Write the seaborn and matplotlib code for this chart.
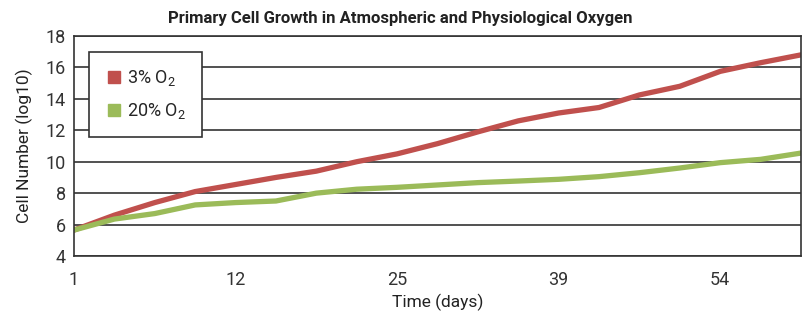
import pandas as pd
import seaborn as sns
import matplotlib.pyplot as plt
from matplotlib.font_manager import fontManager

# sample points; only every 4th point has a day label
day_labels = ['1', '', '', '', '12', '', '', '', '25', '', '', '',
              '39', '', '', '', '54', '', '']
o2_3 = [5.65, 6.6, 7.4, 8.1, 8.55, 9.0, 9.4, 10.0, 10.5, 11.15,
        11.9, 12.6, 13.1, 13.45, 14.25, 14.8, 15.75, 16.3, 16.8]
o2_20 = [5.65, 6.35, 6.7, 7.25, 7.4, 7.5, 8.0, 8.25, 8.37, 8.52,
         8.67, 8.77, 8.88, 9.05, 9.3, 9.6, 9.94, 10.15, 10.55]
series = ['3% O$_2$', '20% O$_2$']
colors = ['#c0504d', '#9bbb59']

df = pd.DataFrame({
    'idx': list(range(len(o2_3))) * 2,
    'value': o2_3 + o2_20,
    'series': [series[0]] * len(o2_3) + [series[1]] * len(o2_20),
})

sns.set_style('white')
names = {f.name for f in fontManager.ttflist}
fams = [f for f in ['Liberation Sans Narrow', 'Roboto', 'DejaVu Sans'] if f in names]
plt.rcParams['font.family'] = fams
plt.rcParams['mathtext.default'] = 'regular'

fig = plt.figure(figsize=(8.1, 3.14), dpi=100)
ax = fig.add_axes([74 / 810, 1 - 256 / 314, 727 / 810, 220 / 314])

sns.lineplot(data=df, x='idx', y='value', hue='series', palette=colors,
             linewidth=3.8, ax=ax, legend=False)

ax.set_xlim(0, len(o2_3) - 1)
ax.set_ylim(4, 18)
ax.set_yticks(range(4, 19, 2))
ax.set_xticks(range(len(day_labels)))
ax.set_xticklabels(day_labels)
ax.tick_params(axis='both', length=0, labelsize=13, colors='#333333')
ax.tick_params(axis='x', pad=11)
ax.tick_params(axis='y', pad=6)
ax.yaxis.grid(True, color='#333333', linewidth=1.2)
ax.set_axisbelow(True)
for s in ax.spines.values():
    s.set_color('#333333')
    s.set_linewidth(1.2)

ax.set_xlabel('Time (days)', fontsize=12.5, color='#222222', labelpad=3)
ax.set_ylabel('Cell Number (log10)', fontsize=12.5, color='#222222', labelpad=9)
fig.text(0.494, 0.94, 'Primary Cell Growth in Atmospheric and Physiological Oxygen',
         ha='center', va='center', fontsize=12, fontweight='bold', color='#222222')

handles = [plt.Line2D([], [], marker='s', linestyle='', markersize=8,
                      color=c) for c in colors]
leg = ax.legend(handles, series, loc='upper left',
                bbox_to_anchor=(15 / 727, 204 / 220), borderaxespad=0,
                frameon=True, fancybox=False, fontsize=13, handletextpad=0.2,
                borderpad=0.9, labelspacing=0.7, handlelength=1.0)
leg.get_frame().set_edgecolor('#333333')
leg.get_frame().set_linewidth(1.2)
leg.get_frame().set_alpha(1)

fig.savefig('out.png', dpi=100)
